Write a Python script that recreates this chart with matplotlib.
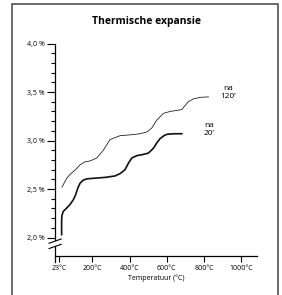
import matplotlib.pyplot as plt
from matplotlib.patches import Rectangle, Polygon
from matplotlib.lines import Line2D

plt.rcParams['font.family'] = ['Open Sans', 'DejaVu Sans']

# Gegevens (temperatuur in °C, uitzetting in %)
temp_120 = [37, 62, 80, 110, 134, 160, 188, 224, 259, 295, 349, 412, 456, 495,
            520, 546, 582, 618, 654, 681, 698, 716, 743, 780, 824]
exp_120 = [2.52, 2.61, 2.65, 2.70, 2.75, 2.78, 2.79, 2.82, 2.90, 3.01, 3.05,
           3.06, 3.07, 3.09, 3.13, 3.21, 3.28, 3.30, 3.31, 3.32, 3.36, 3.40,
           3.43, 3.445, 3.45]

temp_20 = [35, 35, 37, 44, 60, 80, 98, 110, 122, 134, 150, 170, 200, 268, 322,
           350, 376, 395, 412, 440, 470, 501, 528, 548, 564, 585, 600, 640, 681]
exp_20 = [2.03, 2.18, 2.23, 2.27, 2.30, 2.34, 2.39, 2.44, 2.51, 2.56, 2.59,
          2.605, 2.61, 2.62, 2.635, 2.66, 2.70, 2.77, 2.82, 2.845, 2.855, 2.87,
          2.92, 2.98, 3.02, 3.05, 3.064, 3.07, 3.07]

x_ticks = [23, 200, 400, 600, 800, 1000]
x_labels = ['23°C', '200°C', '400°C', '600°C', '800°C', '1000°C']
y_ticks = [2.0, 2.5, 3.0, 3.5, 4.0]
y_labels = ['2,0 %', '2,5 %', '3,0 %', '3,5 %', '4,0 %']
y_minor = [2.1, 2.2, 2.3, 2.4, 2.6, 2.7, 2.8, 2.9, 3.1, 3.2, 3.3, 3.4,
           3.6, 3.7, 3.8, 3.9]

fig = plt.figure(figsize=(2.82, 2.95), dpi=100)
ax = fig.add_axes([0.1954, 0.1322, 0.716, 0.7203])

ax.plot(temp_120, exp_120, color='#222222', lw=0.6)
ax.plot(temp_20, exp_20, color='#111111', lw=1.2)

ax.set_xlim(0, 1085)
ax.set_ylim(1.81, 4.0)

ax.set_xticks(x_ticks)
ax.set_xticklabels(x_labels, fontsize=5)
ax.set_yticks(y_ticks)
ax.set_yticklabels(y_labels, fontsize=5)
ax.set_yticks(y_minor, minor=True)
ax.tick_params(axis='x', length=4.3, width=0.8, pad=2.5)
ax.tick_params(axis='y', which='major', length=5.8, width=0.8, pad=1.5)
ax.tick_params(axis='y', which='minor', length=2.6, width=0.8)

ax.spines['top'].set_visible(False)
ax.spines['right'].set_visible(False)
ax.spines['left'].set_linewidth(0.9)
ax.spines['bottom'].set_linewidth(0.9)
ax.spines['left'].set_bounds(1.748, 4.0)

ax.set_xlabel('Temperatuur (°C)', fontsize=5, labelpad=1.5)

# Aswisseling (breuk in de y-as)
tr = ax.transAxes
gap = Polygon([(-0.03, 0.035), (0.03, 0.055), (0.03, 0.08), (-0.03, 0.06)],
              closed=True, facecolor='white', edgecolor='none',
              transform=tr, clip_on=False, zorder=5)
ax.add_patch(gap)
for y0 in (0.035, 0.06):
    ax.add_line(Line2D([-0.03, 0.03], [y0, y0 + 0.02], color='black', lw=0.8,
                       transform=tr, clip_on=False, zorder=6))

ax.text(930, 3.42, 'na\n120’', fontsize=6, ha='center', va='bottom',
        linespacing=1.2)
ax.text(827, 3.035, 'na\n20’', fontsize=6, ha='center', va='bottom',
        linespacing=1.2)

fig.text(146.5 / 282, 1 - 21.7 / 295, 'Thermische expansie', fontsize=7.5,
         fontweight='bold', ha='center', va='center')

# Kader rond de figuur
fig.patches.append(Rectangle((12 / 282, -0.05), 266 / 282, 1.05 - 4 / 295,
                             transform=fig.transFigure, fill=False,
                             edgecolor='#444444', lw=1.1))

fig.savefig('out.png', dpi=100)
